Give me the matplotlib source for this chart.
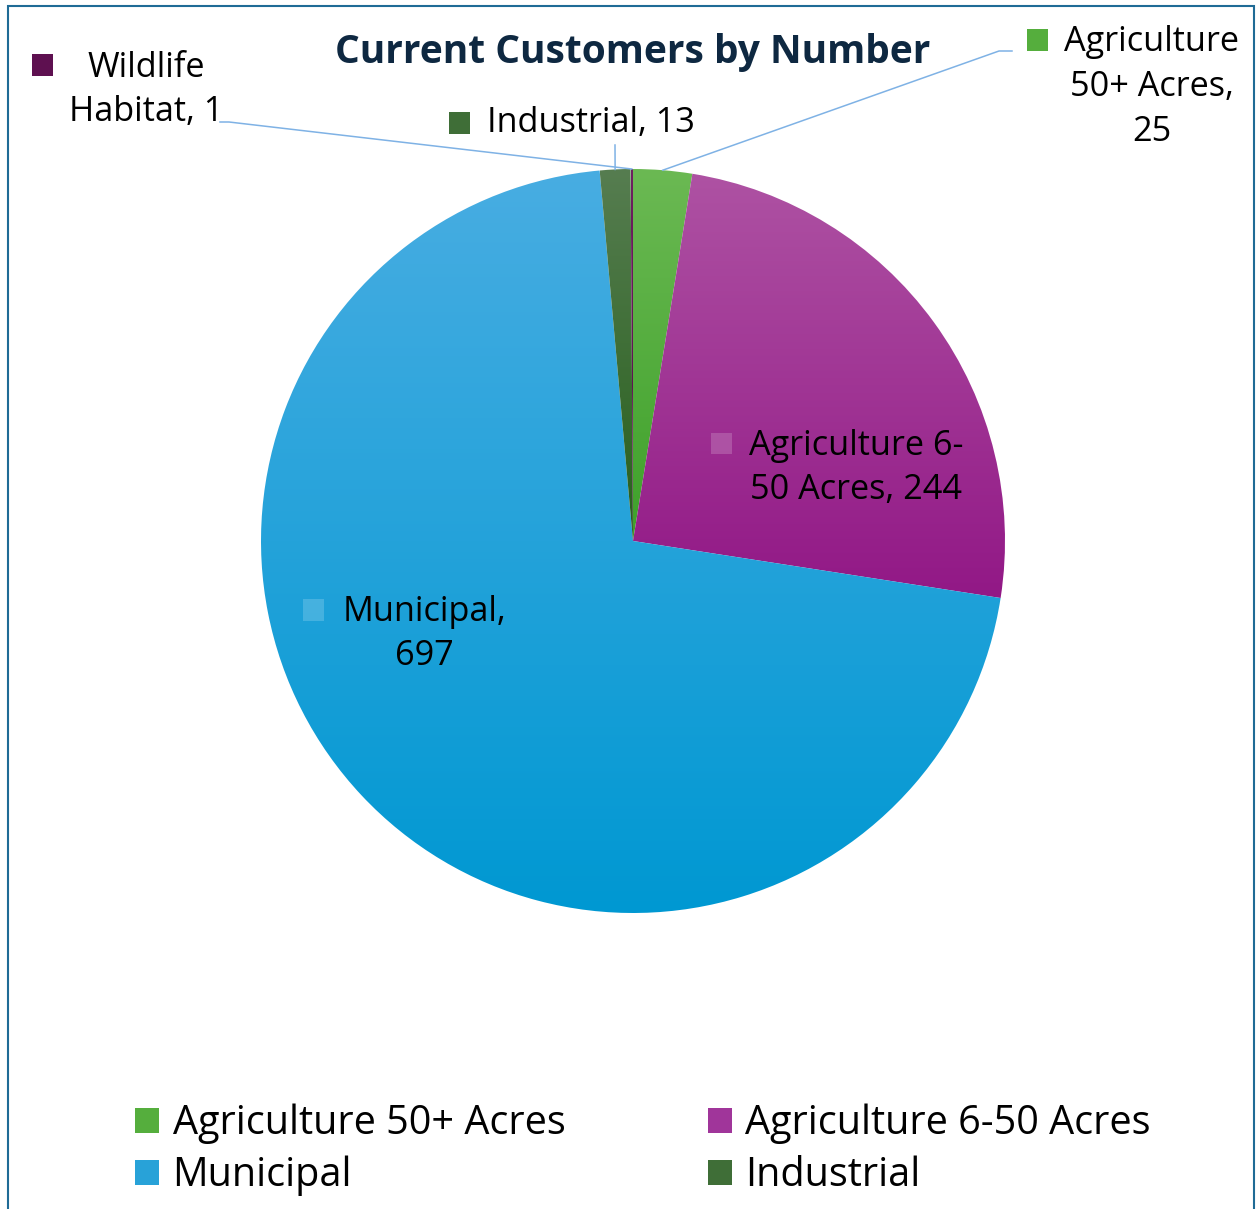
import numpy as np
import matplotlib.pyplot as plt
from matplotlib.colors import LinearSegmentedColormap
from matplotlib.patches import Rectangle, Patch
from matplotlib.lines import Line2D

plt.rcParams['font.family'] = ['Open Sans', 'DejaVu Sans']

# data (clockwise from 12 o'clock)
categories = ['Agriculture 50+ Acres', 'Agriculture 6-50 Acres', 'Municipal', 'Industrial', 'Wildlife Habitat']
customers = [25, 244, 697, 13, 1]
label_names = ['Agriculture\n50+ Acres', 'Agriculture 6-\n50 Acres', 'Municipal', 'Industrial', 'Wildlife\nHabitat']
label_seps = [',\n', ', ', ',\n', ', ', ', ']
top_colors = ['#6BB953', '#AE52A3', '#48ADE2', '#567D50', '#6E2060']
bottom_colors = ['#3EA12A', '#921886', '#0098D2', '#275F1C', '#560848']
legend_order = [0, 2, 1, 3]  # two columns, read row by row

W, H = 1257, 1209
fig = plt.figure(figsize=(W / 100, H / 100), dpi=100)

def fx(x):
    return x / W

def fy(y):
    return 1 - y / H

# pie axes: centre (633, 541) px, radius 372 px
cx, cy, r = 633, 541, 372
ax = fig.add_axes([fx(cx - r), fy(cy + r), 2 * r / W, 2 * r / H])
wedges, _ = ax.pie(customers, startangle=90, counterclock=False, radius=1,
                   wedgeprops=dict(linewidth=0))

grad = np.linspace(0, 1, 256).reshape(-1, 1)
for w, c0, c1 in zip(wedges, top_colors, bottom_colors):
    cmap = LinearSegmentedColormap.from_list('g', [c0, c1])
    bb = w.get_path().get_extents()
    im = ax.imshow(grad, extent=[bb.x0, bb.x1, bb.y0, bb.y1], cmap=cmap,
                   aspect='auto', origin='upper', interpolation='bilinear')
    im.set_clip_path(w)
    w.set_facecolor('none')
ax.set_xlim(-1, 1)
ax.set_ylim(-1, 1)
ax.set_aspect('equal')
ax.axis('off')

# title
fig.text(fx(633), fy(52), 'Current Customers by Number', ha='center', va='center',
         fontsize=28, fontweight='bold', color='#0E2841')

# data labels: (text centre px, ha, marker centre px, faint marker?, leader start px)
label_cfg = [
    ((1152, 87), 'center', (1037, 40), False, [(1012, 51), (999, 51)]),
    ((856, 468), 'center', (721, 444), True, None),
    ((424, 634), 'center', (313, 610), True, None),
    ((487, 123), 'left', (459, 123), False, [(615, 145)]),
    ((146, 90), 'center', (42, 65), False, [(220, 122), (229, 122)]),
]
msz = 21
mid_colors = ['#55AE3D', '#A0359A', '#28A2D8', '#3F6E37', '#5E1050']
for i, (name, sep, v) in enumerate(zip(label_names, label_seps, customers)):
    (tx, ty), ha, (mx, my), faint, lead = label_cfg[i]
    fig.text(fx(tx), fy(ty), f'{name}{sep}{v}', ha=ha, va='center', ma='center',
             fontsize=24.7, color='black', linespacing=1.42)
    fig.add_artist(Rectangle((fx(mx - msz / 2), fy(my + msz / 2)), msz / W, msz / H,
                             transform=fig.transFigure,
                             facecolor='#FFFFFF' if faint else mid_colors[i],
                             alpha=0.18 if faint else 1.0, linewidth=0))
    if lead:
        w = wedges[i]
        ang = np.deg2rad((w.theta1 + w.theta2) / 2)
        ex, ey = ax.transData.transform((np.cos(ang), np.sin(ang)))
        ex, ey = fig.transFigure.inverted().transform((ex, ey))
        xs = [fx(p[0]) for p in lead] + [ex]
        ys = [fy(p[1]) for p in lead] + [ey]
        fig.add_artist(Line2D(xs, ys, transform=fig.transFigure, color='#7FB2E5', linewidth=1.1))

# legend
handles = [Patch(facecolor=mid_colors[i], linewidth=0) for i in legend_order]
labels = [categories[i] for i in legend_order]
fig.legend(handles, labels, ncol=2, loc='center', bbox_to_anchor=(fx(643), fy(1150)),
           frameon=False, fontsize=28.5, handlelength=0.6, handleheight=0.6,
           handletextpad=0.35, columnspacing=3.6, labelspacing=0.3)

# chart border
fig.add_artist(Rectangle((fx(8), -0.1), (1254 - 8) / W, 0.1 + fy(6), transform=fig.transFigure,
                         fill=False, edgecolor='#1F6B96', linewidth=1.5, clip_on=False))

fig.savefig('out.png', dpi=100)
